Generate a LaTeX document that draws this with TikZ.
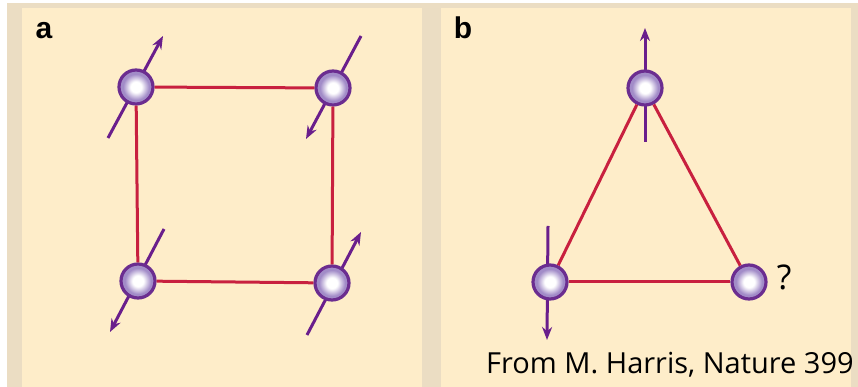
\documentclass[tikz,border=0pt]{standalone}
\usepackage{fontspec}
\setmainfont{Open Sans}
\newfontfamily\labelfont{Liberation Sans}
\usetikzlibrary{arrows.meta,positioning}

\definecolor{panelcream}{HTML}{FEEDC9}
\definecolor{frametan}{HTML}{EBDDC3}
\definecolor{bondred}{HTML}{C8203F}
\definecolor{spinpurple}{HTML}{6A1E8C}
\definecolor{ringpurple}{HTML}{6B2D90}
\definecolor{ballviolet}{HTML}{A28CC8}

\pgfdeclareradialshading{spinball}{\pgfpoint{0bp}{0bp}}{%
  color(0bp)=(white); color(8bp)=(white); color(19bp)=(ballviolet); color(50bp)=(ballviolet)}

\tikzset{
  site/.style={circle, minimum size=34pt, inner sep=0pt, draw=ringpurple,
    line width=3.2pt, shading=spinball},
  bond/.style={bondred, line width=3pt},
  spin/.style={spinpurple, line width=3pt, -{Stealth[length=13pt,width=10pt]}},
  panel/.style={fill=panelcream, draw=none},
  panellabel/.style={font=\labelfont\bfseries\fontsize{30}{30}\selectfont, inner sep=0pt},
}

\begin{document}
\begin{tikzpicture}[x=1pt,y=1pt]
    \useasboundingbox (0,0) rectangle (858,387);
    \fill[white] (0,0) rectangle (858,387);
    \fill[frametan] (7,0) rectangle (858,384);

    % Square lattice
    \begin{scope}
        \fill[panel] (22,0) rectangle (422,379);
        \node[panellabel, anchor=base] (lbla) at (44,348) {a};

        \coordinate (tl0) at (108,249);  \coordinate (tl1) at (163,351);
        \coordinate (tr0) at (361,351);  \coordinate (tr1) at (306,248);
        \coordinate (bl0) at (164,158);  \coordinate (bl1) at (110,55);
        \coordinate (br0) at (307,52);   \coordinate (br1) at (361,155);
        \foreach \s in {tl,tr,bl,br} {
            \draw[spin] (\s0) -- (\s1);
        }

        \node[site] (tl) at (136,300) {};
        \node[site] (tr) at (333,299) {};
        \node[site] (bl) at (138,106) {};
        \node[site] (br) at (332,104) {};

        \draw[bond] (tl) -- (tr);
        \draw[bond] (tr) -- (br);
        \draw[bond] (br) -- (bl);
        \draw[bond] (bl) -- (tl);
    \end{scope}

    % Triangular lattice
    \begin{scope}
        \fill[panel] (441,0) rectangle (851,379);
        \node[panellabel, anchor=base] (lblb) at (463,348) {b};

        \coordinate (top0) at (645,245);  \coordinate (top1) at (645,359);
        \coordinate (lft0) at (548,161);  \coordinate (lft1) at (547,47);
        \foreach \s in {top,lft} {
            \draw[spin] (\s0) -- (\s1);
        }

        \node[site] (top) at (645,299) {};
        \node[site] (lft) at (550,105) {};
        \node[site] (rgt) at (749,105) {};

        \draw[bond] (top) -- (lft);
        \draw[bond] (lft) -- (rgt);
        \draw[bond] (rgt) -- (top);

        \node[right=9pt of rgt, yshift=5pt, inner sep=0pt, font=\fontsize{34}{34}\selectfont] (ask) {?};
        \node[anchor=base west, inner sep=0pt, font=\fontsize{29}{29}\selectfont] (cite) at (486,13)
            {From M. Harris, Nature 399};
    \end{scope}
\end{tikzpicture}
\end{document}
